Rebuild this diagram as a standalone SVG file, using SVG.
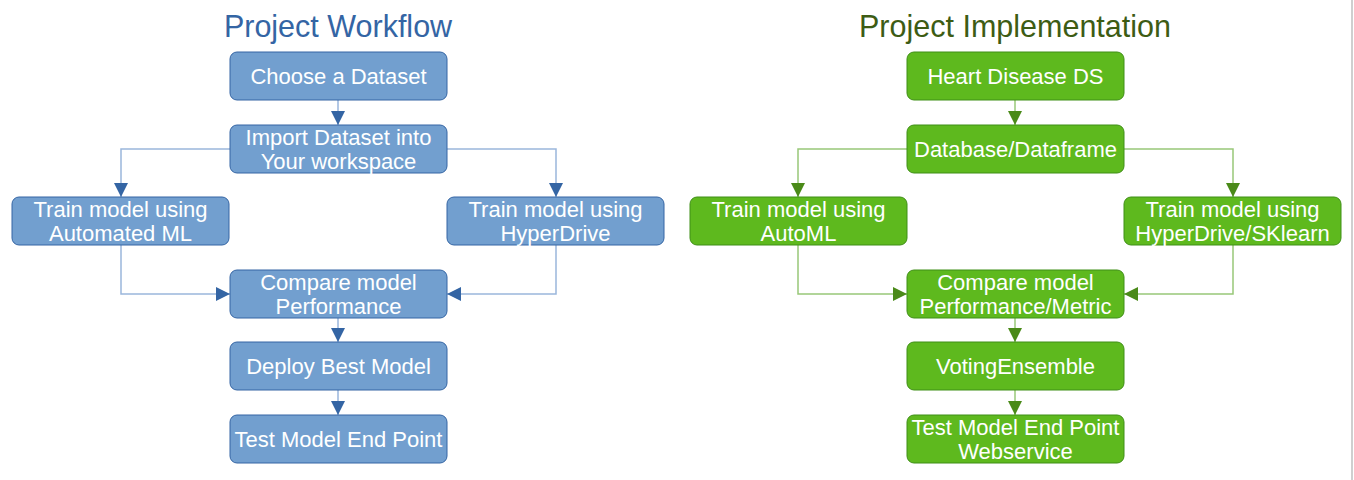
<svg xmlns="http://www.w3.org/2000/svg" width="1354" height="480" viewBox="0 0 1354 480">
<defs>
<style>
.title{font-family:"Liberation Sans",Arial,sans-serif;font-size:30.5px;text-anchor:middle}
.lbl{font-family:"Liberation Sans",Arial,sans-serif;font-size:22px;fill:#ffffff;text-anchor:middle}
.bbox{fill:#729fcf;stroke:#3465a4;stroke-width:1}
.gbox{fill:#5eb91e;stroke:#3f8f17;stroke-width:1}
.bcon{fill:none;stroke:#9ab6dc;stroke-width:1.5}
.gcon{fill:none;stroke:#98c878;stroke-width:1.5}
</style>
<marker id="ab" markerUnits="userSpaceOnUse" markerWidth="14" markerHeight="14" refX="14" refY="7" orient="auto" viewBox="0 0 14 14"><path d="M0,0 L14,7 L0,14 z" fill="#3465a4"/></marker>
<marker id="ag" markerUnits="userSpaceOnUse" markerWidth="14" markerHeight="14" refX="14" refY="7" orient="auto" viewBox="0 0 14 14"><path d="M0,0 L14,7 L0,14 z" fill="#4a8a18"/></marker>
</defs>
<rect x="0" y="0" width="1354" height="480" fill="#ffffff"/>
<line x1="1352" y1="0" x2="1352" y2="480" stroke="#cfcfcf" stroke-width="2"/>

<text class="title" x="338" y="37" fill="#3465a4">Project Workflow</text>
<text class="title" x="1015" y="37" fill="#3d5c14">Project Implementation</text>

<g id="connectors">
<path class="bcon" d="M338,100 L338,125" marker-end="url(#ab)"/>
<path class="bcon" d="M230,149 L121,149 L121,197" marker-end="url(#ab)"/>
<path class="bcon" d="M447,149 L556,149 L556,197" marker-end="url(#ab)"/>
<path class="bcon" d="M121,245 L121,294 L230,294" marker-end="url(#ab)"/>
<path class="bcon" d="M556,245 L556,294 L447,294" marker-end="url(#ab)"/>
<path class="bcon" d="M338,318 L338,342" marker-end="url(#ab)"/>
<path class="bcon" d="M338,390 L338,415" marker-end="url(#ab)"/>

<path class="gcon" d="M1015,100 L1015,125" marker-end="url(#ag)"/>
<path class="gcon" d="M907,149 L798,149 L798,197" marker-end="url(#ag)"/>
<path class="gcon" d="M1124,149 L1233,149 L1233,197" marker-end="url(#ag)"/>
<path class="gcon" d="M798,245 L798,294 L907,294" marker-end="url(#ag)"/>
<path class="gcon" d="M1233,245 L1233,294 L1124,294" marker-end="url(#ag)"/>
<path class="gcon" d="M1015,318 L1015,342" marker-end="url(#ag)"/>
<path class="gcon" d="M1015,390 L1015,415" marker-end="url(#ag)"/>
</g>

<g id="choose"><rect class="bbox" x="230" y="52" width="217" height="48" rx="7"/><text class="lbl" x="338.5" y="83.5">Choose a Dataset</text></g>
<g id="import"><rect class="bbox" x="230" y="125" width="217" height="48" rx="7"/><text class="lbl" x="338.5" y="144.5">Import Dataset into</text><text class="lbl" x="338.5" y="168.5">Your workspace</text></g>
<g id="train-aml"><rect class="bbox" x="12" y="197" width="217" height="48" rx="7"/><text class="lbl" x="120.5" y="216.5">Train model using</text><text class="lbl" x="120.5" y="240.5">Automated ML</text></g>
<g id="train-hd"><rect class="bbox" x="447" y="197" width="217" height="48" rx="7"/><text class="lbl" x="555.5" y="216.5">Train model using</text><text class="lbl" x="555.5" y="240.5">HyperDrive</text></g>
<g id="compare"><rect class="bbox" x="230" y="270" width="217" height="48" rx="7"/><text class="lbl" x="338.5" y="289.5">Compare model</text><text class="lbl" x="338.5" y="313.5">Performance</text></g>
<g id="deploy"><rect class="bbox" x="230" y="342" width="217" height="48" rx="7"/><text class="lbl" x="338.5" y="373.5">Deploy Best Model</text></g>
<g id="test"><rect class="bbox" x="230" y="415" width="217" height="48" rx="7"/><text class="lbl" x="338.5" y="446.5">Test Model End Point</text></g>

<g id="heart"><rect class="gbox" x="907" y="52" width="217" height="48" rx="7"/><text class="lbl" x="1015.5" y="83.5">Heart Disease DS</text></g>
<g id="database"><rect class="gbox" x="907" y="125" width="217" height="48" rx="7"/><text class="lbl" x="1015.5" y="156.5">Database/Dataframe</text></g>
<g id="train-automl"><rect class="gbox" x="690" y="197" width="217" height="48" rx="7"/><text class="lbl" x="798.5" y="216.5">Train model using</text><text class="lbl" x="798.5" y="240.5">AutoML</text></g>
<g id="train-hdsk"><rect class="gbox" x="1124" y="197" width="217" height="48" rx="7"/><text class="lbl" x="1232.5" y="216.5">Train model using</text><text class="lbl" x="1232.5" y="240.5">HyperDrive/SKlearn</text></g>
<g id="compare-metric"><rect class="gbox" x="907" y="270" width="217" height="48" rx="7"/><text class="lbl" x="1015.5" y="289.5">Compare model</text><text class="lbl" x="1015.5" y="313.5">Performance/Metric</text></g>
<g id="voting"><rect class="gbox" x="907" y="342" width="217" height="48" rx="7"/><text class="lbl" x="1015.5" y="373.5">VotingEnsemble</text></g>
<g id="webservice"><rect class="gbox" x="907" y="415" width="217" height="48" rx="7"/><text class="lbl" x="1015.5" y="434.5">Test Model End Point</text><text class="lbl" x="1015.5" y="458.5">Webservice</text></g>
</svg>
